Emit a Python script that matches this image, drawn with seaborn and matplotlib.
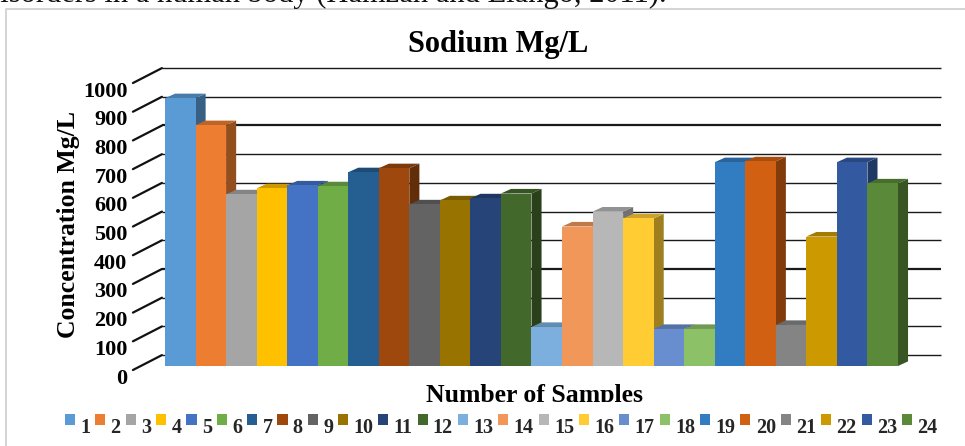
import matplotlib
matplotlib.use("Agg")
import matplotlib.pyplot as plt
import matplotlib.colors as mcolors
from matplotlib.transforms import ScaledTranslation
import pandas as pd
import seaborn as sns

samples = [str(i) for i in range(1, 25)]
sodium = [933, 839, 598, 619, 629, 626, 675, 689, 563, 577, 584, 601,
          136, 486, 538, 514, 129, 129, 710, 713, 143, 451, 710, 636]
bar_colors = ["#5b9bd5", "#ed7d31", "#a5a5a5", "#ffc000", "#4472c4", "#70ad47",
              "#255e91", "#9e480e", "#636363", "#997300", "#264478", "#43682b",
              "#7cafdd", "#f1975a", "#b7b7b7", "#ffcd33", "#698ed0", "#8cc168",
              "#327dc2", "#d26012", "#848484", "#cc9a00", "#335aa1", "#5a8a39"]
y_ticks = list(range(0, 1001, 100))
grid_widths = [1.0, 1.0, 1.0, 1.6, 1.0, 1.0, 1.0, 1.0, 1.6, 1.0, 1.0]

W, H = 965, 446
px_x = 30.54       # pixels per bar
px_y = 0.287       # pixels per mg/L
wall_x, wall_y = -0.6, 38    # back wall shift at the axis side
bar_dx, bar_dy = 0.33, 16    # depth of each bar

serif = "Liberation Serif"
sns.set_theme(style="white")
plt.rcParams["font.family"] = serif
plt.rcParams["font.weight"] = "bold"

df = pd.DataFrame({"sample": samples, "sodium": sodium})

fig = plt.figure(figsize=(W / 100, H / 100), dpi=100)
ax = fig.add_axes([165 / W, (H - 366) / H, 24 * px_x / W, 1038 * px_y / H])

sns.barplot(data=df, x="sample", y="sodium", hue="sample", palette=bar_colors,
            width=1, dodge=False, saturation=1, legend="full", ax=ax, zorder=4,
            linewidth=0)
ax.set_xlim(-0.5, 23.5)
ax.set_ylim(0, 1038)
sns.despine(ax=ax, left=True, bottom=True)
ax.set_xticks([])
ax.set_xlabel("")
ax.set_ylabel("")
ax.patch.set_alpha(0)

# back wall gridlines and slanted tick marks
for v, lw in zip(y_ticks, grid_widths):
    ax.plot([wall_x, 24.9], [v + wall_y] * 2, color="#1a1a1a", lw=lw,
            clip_on=False, zorder=1, solid_capstyle="butt")
    ax.plot([-1.55, wall_x], [v - 14, v + wall_y], color="#111111", lw=1.6,
            clip_on=False, zorder=1)

# fake 3D: side and top faces of every bar
for i, (val, col) in enumerate(zip(sodium, bar_colors)):
    rgb = mcolors.to_rgb(col)
    side = tuple(c * 0.62 for c in rgb)
    top = tuple(c * 0.8 for c in rgb)
    x0, x1 = i - 0.5, i + 0.5
    ax.fill([x1, x1 + bar_dx, x1 + bar_dx, x1], [0, bar_dy, val + bar_dy, val],
            color=side, lw=0, clip_on=False, zorder=2)
    ax.fill([x0, x0 + bar_dx, x1 + bar_dx, x1], [val, val + bar_dy, val + bar_dy, val],
            color=top, lw=0, clip_on=False, zorder=2)

# tick labels sit below and left of the slanted marks
ax.set_yticks(y_ticks)
ax.set_yticklabels([str(v) for v in y_ticks], fontsize=16, fontweight="bold", color="black")
ax.tick_params(axis="y", length=0, pad=27)
shift = ScaledTranslation(0, -10 / 100, fig.dpi_scale_trans)
for lab in ax.get_yticklabels():
    lab.set_transform(lab.get_transform() + shift)

handles, labels = ax.get_legend_handles_labels()
ax.get_legend().remove()
leg = fig.legend(handles, labels, ncol=24, loc="center left",
                 bbox_to_anchor=(65 / W, (H - 428) / H), frameon=False,
                 prop={"family": serif, "weight": "bold", "size": 14.5},
                 handlelength=0.5, handleheight=0.4, handletextpad=0.26,
                 columnspacing=0.248, borderpad=0, borderaxespad=0)
for h in leg.legend_handles:
    h.set_y(h.get_y() + 4.5)   # keys sit high against the digits

fig.text(498 / W, (H - 52) / H, "Sodium Mg/L", ha="center", va="baseline",
         fontsize=22, fontweight="bold", color="black")
fig.text(68 / W, (H - 224) / H, "Concentration Mg/L", rotation=90, ha="center", va="center",
         fontsize=18.5, fontweight="bold", color="black")
xl = fig.text(534 / W, (H - 402) / H, "Number of Samples", ha="center", va="baseline",
              fontsize=18.5, fontweight="bold", color="black")
xl.set_clip_path(plt.Rectangle((0, H - 402), W, 60, transform=None))

# chart frame and the running text cut off above it
fig.add_artist(plt.Line2D([6 / W, 6 / W, 1], [0, (H - 9) / H, (H - 9) / H], color="#d4d4d4", lw=1.4))
fig.text(667 / W, (H - 2) / H, "disorders in a human body (Hamzah and Elango, 2011).", ha="right", va="baseline",
         fontsize=22, fontweight="normal", color="#111111")

fig.savefig("out.png", dpi=100)
